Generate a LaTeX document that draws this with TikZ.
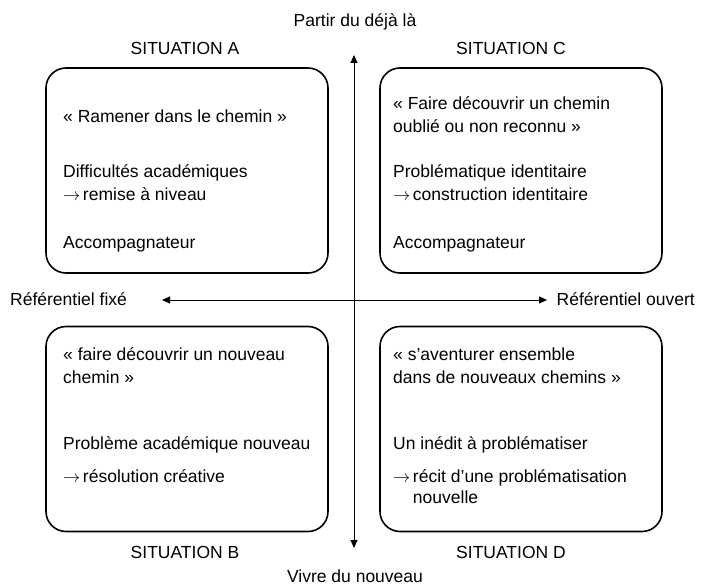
\documentclass[tikz,border=0pt]{standalone}
\usepackage{fontspec}
\setmainfont{Liberation Sans}
\usetikzlibrary{arrows.meta}
\newcommand{\myarr}{$\rightarrow$\hspace{2.5pt}}
\begin{document}
\begin{tikzpicture}[x=1pt,y=-1pt,
  quad/.style={draw, line width=1.6pt, rounded corners=20pt, minimum width=282pt, minimum height=205pt, inner sep=0pt},
  txt/.style={anchor=base west, inner sep=0pt, font=\fontsize{17.5}{23}\selectfont},
  lbl/.style={inner sep=0pt, font=\fontsize{17.5}{23}\selectfont},
  axis/.style={line width=0.9pt, {Triangle[length=8pt,width=7pt]}-{Triangle[length=8pt,width=7pt]}}]
\useasboundingbox (0,0) rectangle (701,586);
% boxes
\node[quad] (A) at (187,170.5) {};
\node[quad] (C) at (521,170.5) {};
\node[quad] (B) at (187,429) {};
\node[quad] (D) at (521,429) {};
% axes
\coordinate (top) at (354,55);
\coordinate (bot) at (354,548);
\coordinate (lft) at (162,300);
\coordinate (rgt) at (547,300);
\draw[axis] (bot) -- (top);
\draw[axis] (lft) -- (rgt);
% labels
\node[lbl] (ptop) at (355,22) {Partir du déjà là};
\node[lbl] (pbot) at (355,576) {Vivre du nouveau};
\node[lbl] (sA) at (185,48) {SITUATION A};
\node[lbl] (sC) at (511,48) {SITUATION C};
\node[lbl] (sB) at (185,552) {SITUATION B};
\node[lbl] (sD) at (511,552) {SITUATION D};
\node[lbl, anchor=west] (rf) at (10,299) {Référentiel fixé};
\node[lbl, anchor=east] (ro) at (695,299) {Référentiel ouvert};
% box A
\node[txt] (a1) at (63,122) {«~Ramener dans le chemin~»};
\node[txt] (a2) at (63,177) {Difficultés académiques};
\node[txt] (a3) at (63,200) {\myarr remise à niveau};
\node[txt] (a4) at (63,248) {Accompagnateur};
% box C
\node[txt] (c1) at (393,109) {«~Faire découvrir un chemin};
\node[txt] (c2) at (393,132) {oublié ou non reconnu~»};
\node[txt] (c3) at (393,177) {Problématique identitaire};
\node[txt] (c4) at (393,200) {\myarr construction identitaire};
\node[txt] (c5) at (393,248) {Accompagnateur};
% box B
\node[txt] (b1) at (63,360) {«~faire découvrir un nouveau};
\node[txt] (b2) at (63,383) {chemin~»};
\node[txt] (b3) at (63,449) {Problème académique nouveau};
\node[txt] (b4) at (63,482) {\myarr résolution créative};
% box D
\node[txt] (d1) at (393,360) {«~s’aventurer ensemble};
\node[txt] (d2) at (393,383) {dans de nouveaux chemins~»};
\node[txt] (d3) at (393,449) {Un inédit à problématiser};
\node[txt] (d4) at (393,482) {\myarr récit d’une problématisation};
\node[txt] (d5) at (393,503) {\hphantom{\myarr}nouvelle};
\end{tikzpicture}
\end{document}
